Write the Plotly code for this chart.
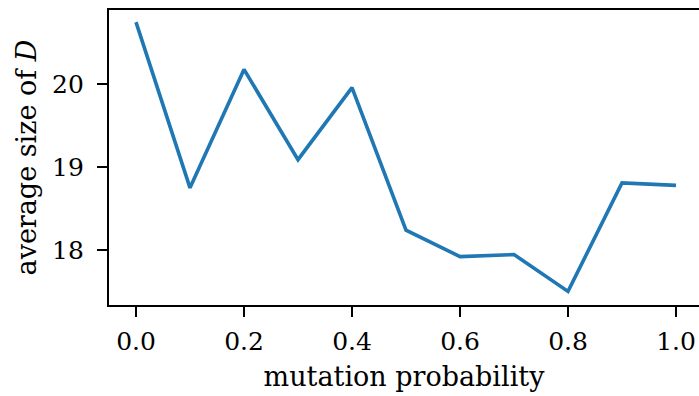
import plotly.graph_objects as go

mutation_prob = [0.0, 0.1, 0.2, 0.3, 0.4, 0.5, 0.6, 0.7, 0.8, 0.9, 1.0]
avg_size_D = [20.75, 18.75, 20.18, 19.09, 19.96, 18.24, 17.92, 17.945, 17.50, 18.81, 18.78]
x_ticks = [0.0, 0.2, 0.4, 0.6, 0.8, 1.0]
x_tick_labels = ["0.0", "0.2", "0.4", "0.6", "0.8", "1.0"]
y_ticks = [18, 19, 20]
y_tick_labels = ["18", "19", "20"]

FONT = "DejaVu Serif"

fig = go.Figure()
fig.add_trace(go.Scatter(
    x=mutation_prob, y=avg_size_D, mode="lines",
    line=dict(color="#1f77b4", width=3.6),
    showlegend=False, hoverinfo="skip",
))

fig.update_layout(
    width=699, height=396,
    margin=dict(l=109, r=0, t=10, b=91),
    paper_bgcolor="white", plot_bgcolor="white",
    font=dict(family=FONT, color="black", size=25),
)
fig.update_xaxes(
    range=[-0.05, 1.0426],
    tickvals=x_ticks, ticktext=x_tick_labels,
    ticks="outside", ticklen=10, tickwidth=2, tickcolor="black",
    showline=True, linewidth=2.2, linecolor="black", mirror=True,
    showgrid=False, zeroline=False,
    tickfont=dict(family=FONT, size=25),
    ticklabelstandoff=3,
    title=dict(text="mutation probability", font=dict(family=FONT, size=27), standoff=12),
)
fig.update_yaxes(
    range=[17.336, 20.897],
    tickvals=y_ticks, ticktext=y_tick_labels,
    ticks="outside", ticklen=10, tickwidth=2, tickcolor="black",
    showline=True, linewidth=2.2, linecolor="black", mirror=False,
    showgrid=False, zeroline=False,
    tickfont=dict(family=FONT, size=25),
    ticklabelstandoff=8,
    title=dict(text="average size of <i>D</i>", font=dict(family=FONT, size=27), standoff=8),
)

fig.write_html("out.html")
